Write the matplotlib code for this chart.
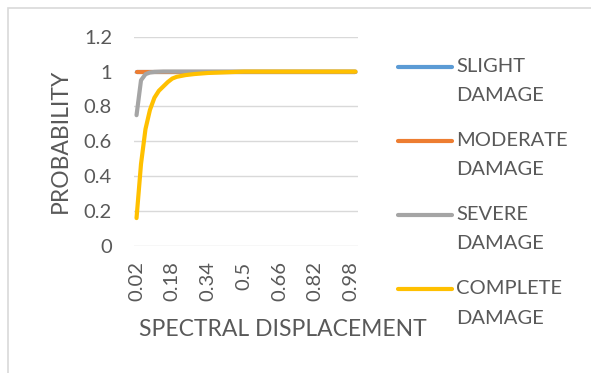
import matplotlib.pyplot as plt
from matplotlib.lines import Line2D
from matplotlib.patches import Rectangle

# spectral displacement categories 0.02 .. 1.00
sd = [round(0.02 * k, 2) for k in range(1, 51)]

slight = [1.0] * 50
moderate = [1.0] * 50
severe = [0.75, 0.95, 0.985, 0.995, 0.998, 0.999] + [1.0] * 44
complete = [0.16, 0.47, 0.67, 0.78, 0.85, 0.89, 0.915, 0.94, 0.96, 0.97,
            0.975, 0.98, 0.983, 0.986, 0.988, 0.99, 0.992, 0.993, 0.994, 0.995,
            0.996, 0.997, 0.998, 0.999] + [1.0] * 26

names = ["SLIGHT DAMAGE", "MODERATE DAMAGE", "SEVERE DAMAGE", "COMPLETE DAMAGE"]
colors = ["#5B9BD5", "#ED7D31", "#A5A5A5", "#FFC000"]

W, H = 591, 373
txt = "#595959"
fs = 14.5
fs_title = 16.5
plt.rcParams['font.family'] = ['Lato', 'DejaVu Sans']

fig = plt.figure(figsize=(W / 100, H / 100), dpi=100)

def fx(px):
    return px / W

def fy(py):
    return 1 - py / H

# outer chart border (only left and top edges fall inside the image)
fig.add_artist(Rectangle((fx(8), fy(400)), 1.2, fy(8) - fy(400),
                         transform=fig.transFigure, fill=False,
                         edgecolor="#d9d9d9", lw=1.2))

ax = fig.add_axes([fx(134.3), fy(246), fx(357.7) - fx(134.3), fy(36.7) - fy(246)])
xs = list(range(len(sd)))
for vals, c in zip([slight, moderate, severe, complete], colors):
    ax.plot(xs, vals, color=c, lw=3.0, solid_capstyle='round')

ax.set_xlim(-0.5, len(sd) - 0.5)
ax.set_ylim(0, 1.2)
ax.set_yticks([0, 0.2, 0.4, 0.6, 0.8, 1.0, 1.2])
ax.set_yticklabels(["0", "0.2", "0.4", "0.6", "0.8", "1", "1.2"])
ax.set_xticks(xs[::8])
ax.set_xticklabels(["%g" % v for v in sd[::8]], rotation=90)
ax.tick_params(length=0, labelsize=fs, colors=txt)
ax.tick_params(axis='y', pad=16)
ax.tick_params(axis='x', pad=11)
ax.grid(axis='y', color="#d9d9d9", lw=1)
ax.set_axisbelow(True)
for s in ax.spines.values():
    s.set_visible(False)

fig.text(fx(283), fy(329), "SPECTRAL DISPLACEMENT", ha='center', va='center',
         fontsize=fs_title, color=txt)
fig.text(fx(60), fy(141), "PROBABILITY", ha='center', va='center',
         rotation=90, fontsize=fs_title, color=txt)

# legend: handle on the first line of each two-line label
for i, (name, c) in enumerate(zip(names, colors)):
    y0 = 66.7 + i * 74.1
    fig.add_artist(Line2D([fx(398), fx(452)], [fy(y0), fy(y0)],
                          transform=fig.transFigure, color=c, lw=3,
                          solid_capstyle='round'))
    for j, word in enumerate(name.split(" ")):
        fig.text(fx(456), fy(y0 + j * 29), word, ha='left', va='center',
                 fontsize=fs, color=txt)

fig.savefig("out.png", dpi=100)
